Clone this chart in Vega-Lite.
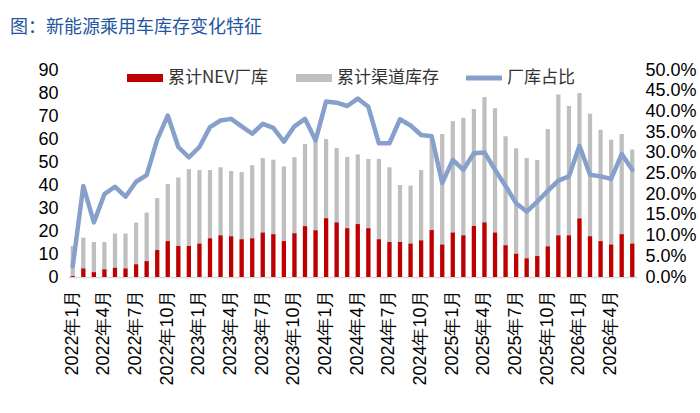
{
  "$schema": "https://vega.github.io/schema/vega-lite/v6.json",
  "width": 569,
  "height": 207,
  "autosize": {"type": "none"},
  "padding": {"left": 68, "top": 70, "right": 63, "bottom": 136},
  "background": "white",
  "title": {
    "text": "图：新能源乘用车库存变化特征",
    "anchor": "start",
    "frame": "group",
    "dx": -58,
    "offset": 23,
    "font": "Noto Sans CJK SC",
    "fontSize": 18,
    "fontWeight": "normal",
    "color": "#2456a0"
  },
  "data": {
    "values": [
      {"month": "2022年1月", "total": 13.5, "nev": 0.4, "ratio": 0.026},
      {"month": "2022年2月", "total": 17.1, "nev": 3.7, "ratio": 0.22},
      {"month": "2022年3月", "total": 15.2, "nev": 2.1, "ratio": 0.132},
      {"month": "2022年4月", "total": 15.2, "nev": 3.3, "ratio": 0.2},
      {"month": "2022年5月", "total": 18.9, "nev": 4.0, "ratio": 0.218},
      {"month": "2022年6月", "total": 18.9, "nev": 3.7, "ratio": 0.194},
      {"month": "2022年7月", "total": 23.7, "nev": 5.5, "ratio": 0.23},
      {"month": "2022年8月", "total": 28.0, "nev": 6.9, "ratio": 0.246},
      {"month": "2022年9月", "total": 34.3, "nev": 11.7, "ratio": 0.332},
      {"month": "2022年10月", "total": 40.4, "nev": 15.6, "ratio": 0.39},
      {"month": "2022年11月", "total": 43.3, "nev": 13.5, "ratio": 0.314},
      {"month": "2022年12月", "total": 46.9, "nev": 13.5, "ratio": 0.289},
      {"month": "2023年1月", "total": 46.5, "nev": 14.5, "ratio": 0.314},
      {"month": "2023年2月", "total": 46.5, "nev": 16.8, "ratio": 0.362},
      {"month": "2023年3月", "total": 47.7, "nev": 18.1, "ratio": 0.378},
      {"month": "2023年4月", "total": 46.1, "nev": 17.7, "ratio": 0.382},
      {"month": "2023年5月", "total": 45.6, "nev": 16.4, "ratio": 0.364},
      {"month": "2023年6月", "total": 48.6, "nev": 16.8, "ratio": 0.346},
      {"month": "2023年7月", "total": 51.7, "nev": 19.3, "ratio": 0.37},
      {"month": "2023年8月", "total": 51.0, "nev": 18.6, "ratio": 0.36},
      {"month": "2023年9月", "total": 48.1, "nev": 15.6, "ratio": 0.327},
      {"month": "2023年10月", "total": 52.1, "nev": 19.0, "ratio": 0.364},
      {"month": "2023年11月", "total": 57.8, "nev": 22.1, "ratio": 0.382},
      {"month": "2023年12月", "total": 59.5, "nev": 20.3, "ratio": 0.33},
      {"month": "2024年1月", "total": 60.0, "nev": 25.5, "ratio": 0.424},
      {"month": "2024年2月", "total": 56.1, "nev": 23.7, "ratio": 0.421},
      {"month": "2024年3月", "total": 52.2, "nev": 21.2, "ratio": 0.413},
      {"month": "2024年4月", "total": 53.3, "nev": 23.0, "ratio": 0.431},
      {"month": "2024年5月", "total": 51.3, "nev": 21.2, "ratio": 0.411},
      {"month": "2024年6月", "total": 51.3, "nev": 16.4, "ratio": 0.323},
      {"month": "2024年7月", "total": 47.7, "nev": 15.2, "ratio": 0.323},
      {"month": "2024年8月", "total": 40.0, "nev": 15.2, "ratio": 0.381},
      {"month": "2024年9月", "total": 39.7, "nev": 14.5, "ratio": 0.366},
      {"month": "2024年10月", "total": 46.5, "nev": 15.9, "ratio": 0.343},
      {"month": "2024年11月", "total": 60.0, "nev": 20.4, "ratio": 0.34},
      {"month": "2024年12月", "total": 62.2, "nev": 14.1, "ratio": 0.227},
      {"month": "2025年1月", "total": 67.8, "nev": 19.3, "ratio": 0.283},
      {"month": "2025年2月", "total": 69.2, "nev": 18.1, "ratio": 0.259},
      {"month": "2025年3月", "total": 73.0, "nev": 22.2, "ratio": 0.299},
      {"month": "2025年4月", "total": 78.3, "nev": 23.7, "ratio": 0.301},
      {"month": "2025年5月", "total": 73.4, "nev": 19.3, "ratio": 0.259},
      {"month": "2025年6月", "total": 61.2, "nev": 13.8, "ratio": 0.22},
      {"month": "2025年7月", "total": 56.0, "nev": 10.1, "ratio": 0.178},
      {"month": "2025年8月", "total": 51.7, "nev": 8.1, "ratio": 0.158},
      {"month": "2025年9月", "total": 50.9, "nev": 9.1, "ratio": 0.182},
      {"month": "2025年10月", "total": 64.3, "nev": 13.3, "ratio": 0.208},
      {"month": "2025年11月", "total": 79.4, "nev": 18.1, "ratio": 0.233},
      {"month": "2025年12月", "total": 74.3, "nev": 18.1, "ratio": 0.243},
      {"month": "2026年1月", "total": 80.0, "nev": 25.4, "ratio": 0.317},
      {"month": "2026年2月", "total": 71.0, "nev": 17.7, "ratio": 0.247},
      {"month": "2026年3月", "total": 64.0, "nev": 15.6, "ratio": 0.243},
      {"month": "2026年4月", "total": 59.7, "nev": 14.1, "ratio": 0.237},
      {"month": "2026年5月", "total": 62.2, "nev": 18.6, "ratio": 0.297},
      {"month": "2026年6月", "total": 55.4, "nev": 14.5, "ratio": 0.259}
    ]
  },
  "encoding": {
    "x": {
      "field": "month",
      "type": "ordinal",
      "sort": null,
      "scale": {"paddingInner": 0.6, "paddingOuter": 0.25},
      "axis": {
        "title": null,
        "values": ["2022年1月", "2022年4月", "2022年7月", "2022年10月", "2023年1月", "2023年4月", "2023年7月", "2023年10月", "2024年1月", "2024年4月", "2024年7月", "2024年10月", "2025年1月", "2025年4月", "2025年7月", "2025年10月", "2026年1月", "2026年4月"],
        "labelAngle": -90,
        "labelFont": "Liberation Sans",
        "labelFontSize": 18,
        "labelColor": "#000000",
        "labelPadding": 12,
        "labelOverlap": false,
        "ticks": false,
        "domain": true,
        "domainColor": "#d9d9d9",
        "domainWidth": 1.5,
        "grid": false
      }
    }
  },
  "layer": [
    {
      "encoding": {
        "y": {
          "type": "quantitative",
          "scale": {"domain": [0, 90]},
          "axis": {
            "title": null,
            "values": [0, 10, 20, 30, 40, 50, 60, 70, 80, 90],
            "labelFont": "Liberation Sans",
            "labelFontSize": 18,
            "labelColor": "#000000",
            "labelPadding": 10,
            "labelOverlap": false,
            "labelFlush": false,
            "ticks": false,
            "domain": false,
            "grid": false
          }
        }
      },
      "layer": [
        {
          "mark": {"type": "bar"},
          "encoding": {
            "y": {"field": "total", "type": "quantitative"},
            "color": {"datum": "累计渠道库存"}
          }
        },
        {
          "mark": {"type": "bar"},
          "encoding": {
            "y": {"field": "nev", "type": "quantitative"},
            "color": {"datum": "累计NEV厂库"}
          }
        }
      ]
    },
    {
      "mark": {"type": "line", "strokeWidth": 4.5, "strokeCap": "round", "strokeJoin": "round"},
      "encoding": {
        "y": {
          "field": "ratio",
          "type": "quantitative",
          "scale": {"domain": [0, 0.5]},
          "axis": {
            "orient": "right",
            "title": null,
            "format": ".1%",
            "values": [0, 0.05, 0.1, 0.15, 0.2, 0.25, 0.3, 0.35, 0.4, 0.45, 0.5],
            "labelFont": "Liberation Sans",
            "labelFontSize": 18,
            "labelColor": "#000000",
            "labelPadding": 8,
            "labelOverlap": false,
            "labelFlush": false,
            "ticks": false,
            "domain": false,
            "grid": false
          }
        },
        "color": {
          "datum": "厂库占比",
          "scale": {
            "domain": ["累计NEV厂库", "累计渠道库存", "厂库占比"],
            "range": ["#c00000", "#bfbfbf", "#86a0cb"]
          },
          "legend": {
            "title": null,
            "orient": "none",
            "legendX": 59,
            "legendY": -10,
            "direction": "horizontal",
            "labelFont": "Noto Sans CJK SC",
            "labelFontSize": 17,
            "labelColor": "#333333",
            "labelOffset": 5,
            "columnPadding": 27,
            "symbolSize": 1296,
            "encode": {
              "symbols": {
                "update": {
                  "shape": {"signal": "datum.value === '厂库占比' ? 'M-1,-0.14H1V0.14H-1Z' : 'M-1,-0.22H1V0.22H-1Z'"},
                  "fill": {"scale": "color", "field": "value"},
                  "fillOpacity": {"value": 1},
                  "stroke": {"value": "transparent"},
                  "strokeWidth": {"value": 0},
                  "opacity": {"value": 1}
                }
              }
            }
          }
        }
      }
    }
  ],
  "resolve": {"scale": {"y": "independent"}},
  "config": {"view": {"stroke": null}}
}
